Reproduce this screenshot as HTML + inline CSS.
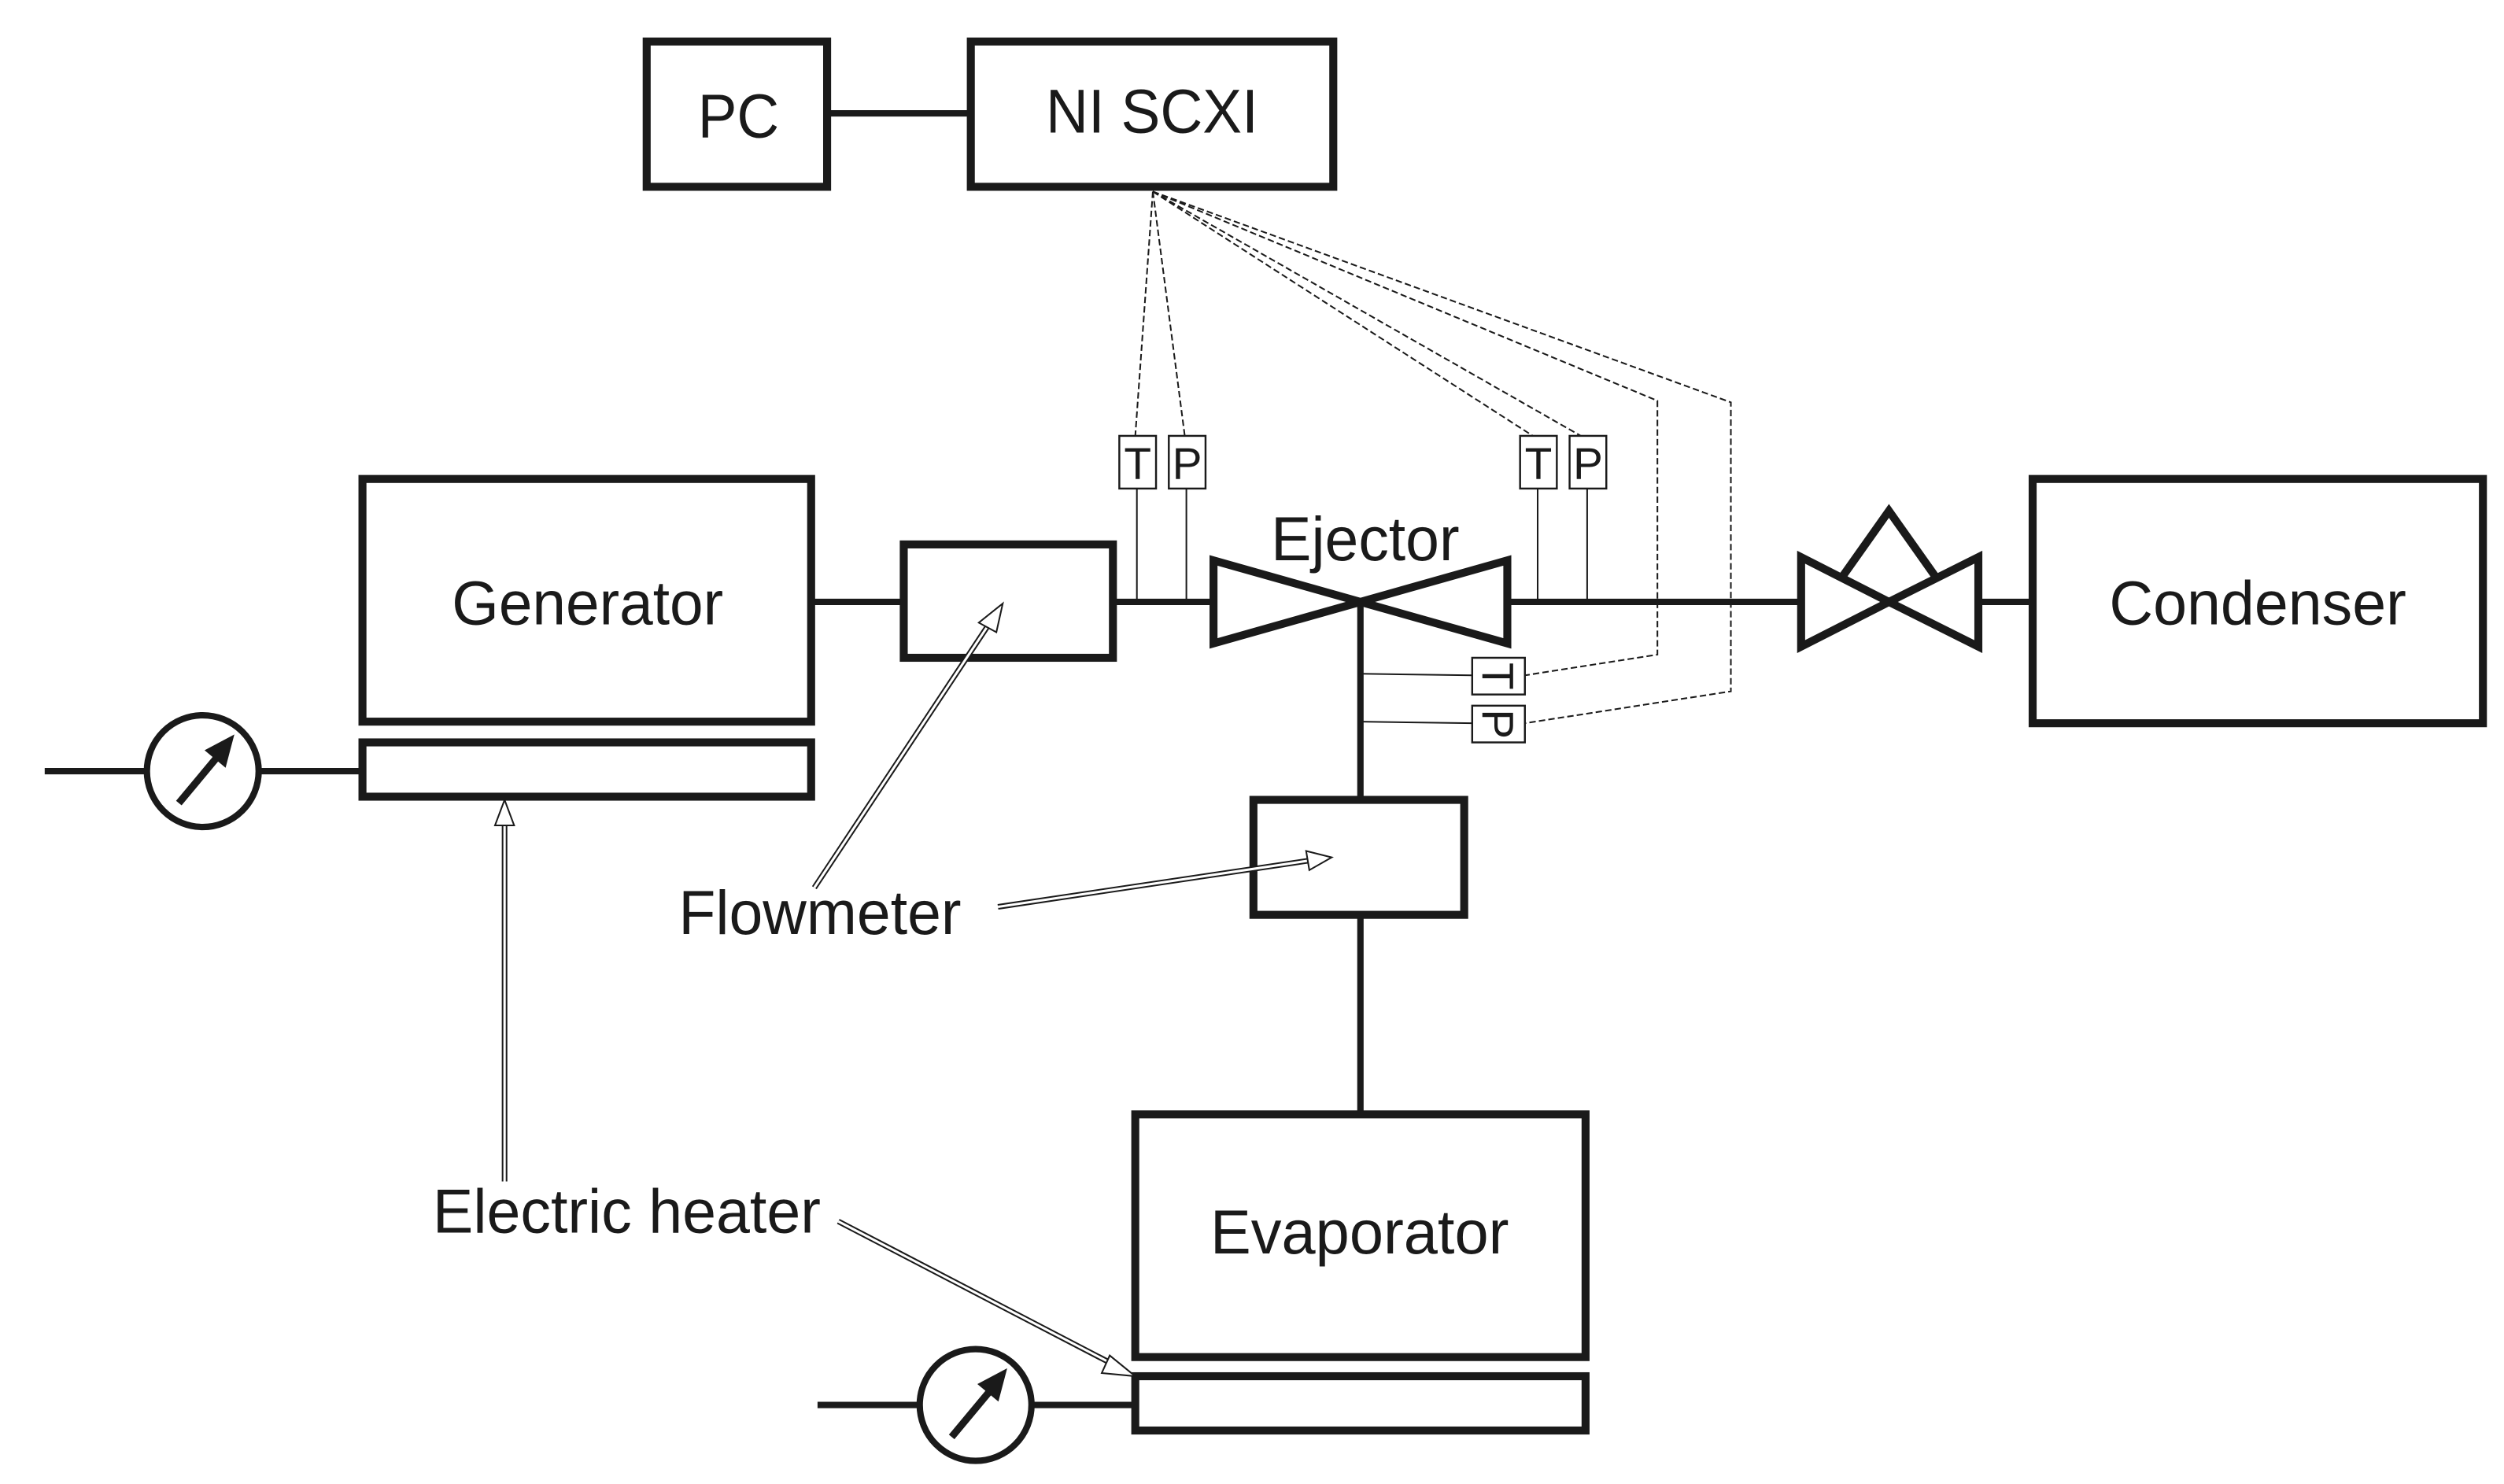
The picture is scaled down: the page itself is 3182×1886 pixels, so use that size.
<!DOCTYPE html>
<html><head><meta charset="utf-8"><style>html,body{margin:0;padding:0;background:#fff}svg{display:block}</style></head>
<body>
<svg width="3182" height="1886" viewBox="0 0 1568.2 929.5" preserveAspectRatio="none" xmlns="http://www.w3.org/2000/svg">
<g fill="none" stroke="#1a1a1a" stroke-width="5">
<rect x="405" y="26" width="113" height="91"/>
<rect x="608" y="26" width="227" height="91"/>
<rect x="227" y="300" width="281" height="152"/>
<rect x="227" y="465" width="281" height="34"/>
<rect x="566" y="341" width="131" height="71"/>
<rect x="1273" y="300" width="282" height="153"/>
<rect x="785" y="501" width="132" height="72"/>
<rect x="711" y="698" width="282" height="152"/>
<rect x="711" y="862" width="282" height="34"/>
</g>
<g fill="none" stroke="#1a1a1a" stroke-width="4">
<line x1="518" y1="71" x2="608" y2="71"/>
<line x1="508" y1="377" x2="566" y2="377"/>
<line x1="697" y1="377" x2="758" y2="377"/>
<line x1="945" y1="377" x2="1127" y2="377"/>
<line x1="1240" y1="377" x2="1273" y2="377"/>
<line x1="852" y1="377" x2="852" y2="501"/>
<line x1="852" y1="573" x2="852" y2="698"/>
<line x1="28" y1="483" x2="92" y2="483"/>
<line x1="162" y1="483" x2="227" y2="483"/>
<circle cx="127" cy="483" r="35"/>
<line x1="512" y1="880" x2="576" y2="880"/>
<line x1="646" y1="880" x2="711" y2="880"/>
<circle cx="611" cy="880" r="35"/>
</g>
<g stroke="#1a1a1a" stroke-width="5" fill="none" stroke-linejoin="miter">
<polygon points="760,351 760,403 852,377"/>
<polygon points="944,351 944,403 852,377"/>
<polygon points="1128,349 1128,405 1183,377"/>
<polygon points="1239,349 1239,405 1183,377"/>
<polyline points="1154,361 1183,320 1212,361"/>
</g>
<g stroke="#1a1a1a" stroke-width="4.5" fill="#1a1a1a">
<line x1="112" y1="503" x2="137" y2="473"/>
<polygon points="146,461 129,470 141,480" stroke-width="1"/>
<line x1="596" y1="900" x2="621" y2="870"/>
<polygon points="630,858 613,867 625,877" stroke-width="1"/>
</g>
<g fill="#fff" stroke="#1a1a1a" stroke-width="1.2">
<rect x="701" y="273" width="23" height="33"/>
<rect x="732" y="273" width="23" height="33"/>
<rect x="952" y="273" width="23" height="33"/>
<rect x="983" y="273" width="23" height="33"/>
<rect x="922" y="412" width="33" height="23"/>
<rect x="922" y="442" width="33" height="23"/>
</g>
<g stroke="#1a1a1a" stroke-width="1" fill="none">
<line x1="712" y1="306" x2="712" y2="377"/>
<line x1="743" y1="306" x2="743" y2="377"/>
<line x1="963" y1="306" x2="963" y2="377"/>
<line x1="994" y1="306" x2="994" y2="377"/>
<line x1="852" y1="422" x2="922" y2="423"/>
<line x1="852" y1="452" x2="922" y2="453"/>
</g>
<g stroke="#1a1a1a" stroke-width="1" fill="none" stroke-dasharray="4,2">
<line x1="722" y1="120" x2="711" y2="273"/>
<line x1="722" y1="120" x2="742" y2="273"/>
<line x1="722" y1="120" x2="960" y2="273"/>
<line x1="722" y1="120" x2="990" y2="273"/>
<polyline points="722,120 1038,251 1038,410 955,423"/>
<polyline points="722,120 1084,252 1084,433 955,453"/>
</g>
<g font-family="Liberation Sans, sans-serif" fill="#1a1a1a" font-size="28">
<text x="712.5" y="300" text-anchor="middle">T</text>
<text x="743.5" y="300" text-anchor="middle">P</text>
<text x="963.5" y="300" text-anchor="middle">T</text>
<text x="994.5" y="300" text-anchor="middle">P</text>
<text x="0" y="0" text-anchor="middle" transform="translate(938.5,423.5) rotate(90)" dy="10">T</text>
<text x="0" y="0" text-anchor="middle" transform="translate(938.5,453.5) rotate(90)" dy="10">P</text>
</g>
<g fill="none" stroke="#1a1a1a">
<line x1="510" y1="556" x2="620" y2="390" stroke-width="3.5"/>
<line x1="510" y1="556" x2="620" y2="390" stroke="#fff" stroke-width="1.5"/>
<polygon points="628,378 613,390 624,396" fill="#fff" stroke-width="1"/>
<line x1="625" y1="568" x2="820" y2="539" stroke-width="3.5"/>
<line x1="625" y1="568" x2="820" y2="539" stroke="#fff" stroke-width="1.5"/>
<polygon points="834,537 818,533 820,545" fill="#fff" stroke-width="1"/>
<line x1="316" y1="740" x2="316" y2="515" stroke-width="3.5"/>
<line x1="316" y1="740" x2="316" y2="515" stroke="#fff" stroke-width="1.5"/>
<polygon points="316,501 310,517 322,517" fill="#fff" stroke-width="1"/>
<line x1="525" y1="765" x2="698" y2="855" stroke-width="3.5"/>
<line x1="525" y1="765" x2="698" y2="855" stroke="#fff" stroke-width="1.5"/>
<polygon points="711,862 695,849 690,860" fill="#fff" stroke-width="1"/>
</g>
<g font-family="Liberation Sans, sans-serif" fill="#1a1a1a" font-size="39">
<text x="437" y="86" textLength="51" lengthAdjust="spacingAndGlyphs">PC</text>
<text x="655" y="83" textLength="133" lengthAdjust="spacingAndGlyphs">NI SCXI</text>
<text x="283" y="391" textLength="170" lengthAdjust="spacingAndGlyphs">Generator</text>
<text x="796" y="351" textLength="118" lengthAdjust="spacingAndGlyphs">Ejector</text>
<text x="1321" y="391" textLength="186" lengthAdjust="spacingAndGlyphs">Condenser</text>
<text x="425" y="585" textLength="177" lengthAdjust="spacingAndGlyphs">Flowmeter</text>
<text x="271" y="772" textLength="243" lengthAdjust="spacingAndGlyphs">Electric heater</text>
<text x="758" y="785" textLength="187" lengthAdjust="spacingAndGlyphs">Evaporator</text>
</g>
</svg>
</body></html>
